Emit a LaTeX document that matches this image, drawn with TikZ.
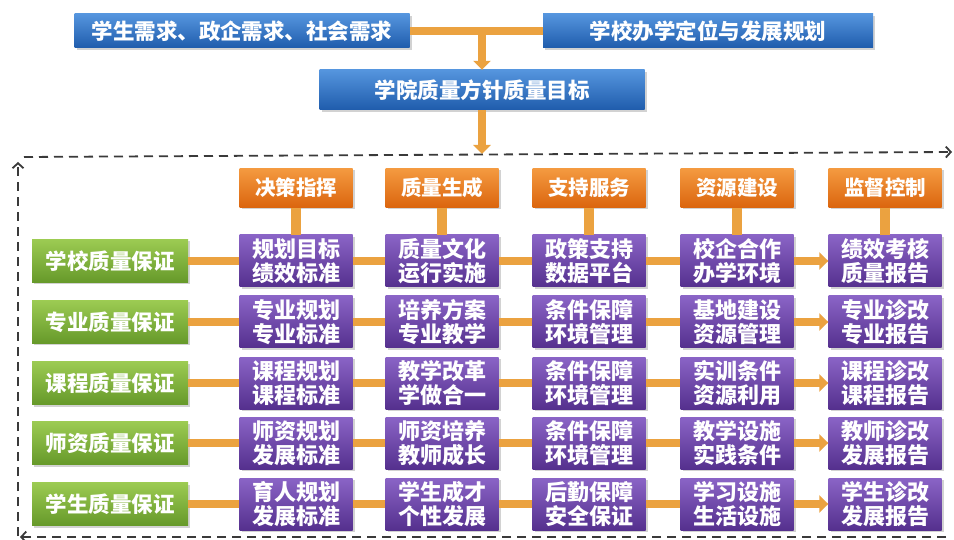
\documentclass[tikz,border=0pt]{standalone}
\usepackage{fontspec}
\setmainfont{Noto Sans CJK SC}
\usetikzlibrary{arrows.meta,shadows}
\definecolor{blueT}{HTML}{5595DE}
\definecolor{blueB}{HTML}{1F5CAC}
\definecolor{orangeT}{HTML}{F49A40}
\definecolor{orangeB}{HTML}{DB650E}
\definecolor{purpT}{HTML}{8A64C6}
\definecolor{purpB}{HTML}{55308E}
\definecolor{greenT}{HTML}{9CCB52}
\definecolor{greenB}{HTML}{66992A}
\definecolor{barC}{HTML}{EBA240}
\definecolor{dashC}{HTML}{3A3A3A}
\begin{document}
\begin{tikzpicture}[x=1pt,y=-1pt,
  base/.style={draw=none, text=white, inner sep=0pt, align=center,
    drop shadow={shadow xshift=2pt, shadow yshift=-2pt, opacity=0.35}},
  bluebox/.style={base, top color=blueT, bottom color=blueB, minimum height=34pt,
    font=\bfseries\fontsize{21.5}{24}\selectfont},
  headbox/.style={base, top color=orangeT, bottom color=orangeB, minimum width=113pt, minimum height=39pt,
    font=\bfseries\fontsize{20.5}{23}\selectfont},
  purpbox/.style={base, top color=purpT, bottom color=purpB, minimum width=113pt, minimum height=52pt,
    font=\bfseries\fontsize{22}{24.5}\selectfont},
  greenbox/.style={base, top color=greenT, bottom color=greenB, minimum width=156pt, minimum height=43pt,
    font=\bfseries\fontsize{21.5}{24}\selectfont},
  bar/.style={draw=barC, line width=8pt},
  vbar/.style={draw=barC, line width=10pt},
  barrow/.style={draw=barC, line width=8pt, -{Triangle[length=9pt,width=17pt]}},
  dashline/.style={draw=dashC, line width=1.8pt, dash pattern=on 9pt off 6pt, -{Straight Barb[length=5pt,width=11pt]}}
]
\fill[white] (0,0) rectangle (954,540);
\useasboundingbox (0,0) rectangle (954,540);

% top blue boxes
\node[bluebox, minimum width=335pt] (need) at (242,31) {学生需求、政企需求、社会需求};
\node[bluebox, minimum width=330pt] (plan) at (708,31) {学校办学定位与发展规划};
\node[bluebox, minimum width=325pt, minimum height=40pt] (goal) at (482,90) {学院质量方针质量目标};

\coordinate (mid) at (482,31);
\coordinate (dtop) at (482,154);
\draw[bar] (need.east) -- (plan.west);
\draw[barrow] (mid) -- (goal.north);
\draw[barrow] (goal.south) -- (dtop);

% dashed loop
\coordinate (tl) at (24,157);
\coordinate (tr) at (952,152);
\coordinate (bl) at (18,536);
\coordinate (lt) at (18,162);
\coordinate (br) at (946,537);
\coordinate (bll) at (20,537);
\draw[dashline] (tl) -- (tr);
\draw[dashline] (bl) -- (lt);
\draw[dashline] (br) -- (bll);

% headers
\node[headbox] (h1) at (296,188) {决策指挥};
\node[headbox] (h2) at (442,188) {质量生成};
\node[headbox] (h3) at (589,188) {支持服务};
\node[headbox] (h4) at (737,188) {资源建设};
\node[headbox] (h5) at (885,188) {监督控制};

% green boxes
\node[greenbox] (g1) at (110,261) {学校质量保证};
\node[greenbox] (g2) at (110,322) {专业质量保证};
\node[greenbox] (g3) at (110,383) {课程质量保证};
\node[greenbox] (g4) at (110,443) {师资质量保证};
\node[greenbox] (g5) at (110,504) {学生质量保证};

% purple boxes
\node[purpbox] (p11) at (296,261) {规划目标\\绩效标准};
\node[purpbox] (p12) at (442,261) {质量文化\\运行实施};
\node[purpbox] (p13) at (589,261) {政策支持\\数据平台};
\node[purpbox] (p14) at (737,261) {校企合作\\办学环境};
\node[purpbox] (p15) at (885,261) {绩效考核\\质量报告};

\node[purpbox] (p21) at (296,322) {专业规划\\专业标准};
\node[purpbox] (p22) at (442,322) {培养方案\\专业教学};
\node[purpbox] (p23) at (589,322) {条件保障\\环境管理};
\node[purpbox] (p24) at (737,322) {基地建设\\资源管理};
\node[purpbox] (p25) at (885,322) {专业诊改\\专业报告};

\node[purpbox] (p31) at (296,383) {课程规划\\课程标准};
\node[purpbox] (p32) at (442,383) {教学改革\\学做合一};
\node[purpbox] (p33) at (589,383) {条件保障\\环境管理};
\node[purpbox] (p34) at (737,383) {实训条件\\资源利用};
\node[purpbox] (p35) at (885,383) {课程诊改\\课程报告};

\node[purpbox] (p41) at (296,443) {师资规划\\发展标准};
\node[purpbox] (p42) at (442,443) {师资培养\\教师成长};
\node[purpbox] (p43) at (589,443) {条件保障\\环境管理};
\node[purpbox] (p44) at (737,443) {教学设施\\实践条件};
\node[purpbox] (p45) at (885,443) {教师诊改\\发展报告};

\node[purpbox] (p51) at (296,504) {育人规划\\发展标准};
\node[purpbox] (p52) at (442,504) {学生成才\\个性发展};
\node[purpbox] (p53) at (589,504) {后勤保障\\安全保证};
\node[purpbox] (p54) at (737,504) {学习设施\\生活设施};
\node[purpbox] (p55) at (885,504) {学生诊改\\发展报告};

% header to first row
\foreach \j in {1,...,5} {
  \draw[vbar] (h\j.south) -- (p1\j.north);
}
% row connectors
\foreach \i in {1,...,5} {
  \draw[bar] (g\i.east) -- (p\i1.west);
  \draw[bar] (p\i1.east) -- (p\i2.west);
  \draw[bar] (p\i2.east) -- (p\i3.west);
  \draw[bar] (p\i3.east) -- (p\i4.west);
  \draw[barrow] (p\i4.east) -- (p\i5.west);
}
\end{tikzpicture}
\end{document}
